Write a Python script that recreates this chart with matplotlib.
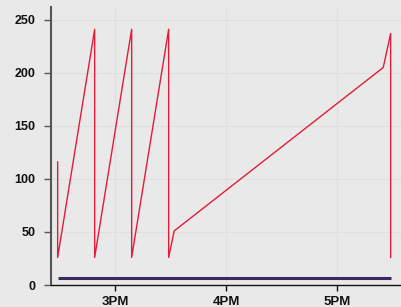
import matplotlib.pyplot as plt
import matplotlib.dates as mdates
import pandas as pd

red_times = ['14:29', '14:29', '14:49', '14:49', '15:09', '15:09', '15:29', '15:29',
             '15:32', '17:25', '17:29', '17:29']
red_values = [116, 26, 241, 26, 241, 26, 241, 26, 51, 205, 237, 26]
purple_times = ['14:29', '17:29']
purple_values = [7, 7]
y_ticks = [0, 50, 100, 150, 200, 250]

def to_dt(ts):
    return pd.to_datetime(['2024-01-01 ' + t for t in ts])

bg = '#e8e9e8'
fig = plt.figure(figsize=(4.02, 3.07), dpi=100, facecolor=bg)
ax = fig.add_axes([51 / 402, 22 / 307, 350 / 402, 278 / 307], facecolor=bg)

ax.plot(to_dt(purple_times), purple_values, color='#3b2a60', lw=2.2, solid_capstyle='butt')
ax.plot(to_dt(red_times), red_values, color='#e31b3b', lw=1.0)

ax.set_xlim(pd.Timestamp('2024-01-01 14:25:24'), pd.Timestamp('2024-01-01 17:34:36'))
ax.set_ylim(0, 262)
ax.set_yticks(y_ticks)
ax.xaxis.set_major_locator(mdates.HourLocator())
ax.xaxis.set_major_formatter(mdates.DateFormatter('%-I%p'))

ax.grid(True, color='#dfe0df', lw=0.8)
ax.set_axisbelow(True)
for s in ['top', 'right']:
    ax.spines[s].set_visible(False)
ax.spines['left'].set_color('#555555')
ax.spines['left'].set_linewidth(1.5)
ax.spines['bottom'].set_color('#111111')
ax.spines['bottom'].set_linewidth(1.0)
ax.tick_params(axis='y', length=5, width=1, color='#555555', pad=6)
ax.tick_params(axis='x', length=4, width=1, color='#111111', pad=4)
for lab in ax.get_yticklabels():
    lab.set_fontfamily('Liberation Sans')
    lab.set_fontweight('bold')
    lab.set_fontsize(9)
    lab.set_color('#111111')
for lab in ax.get_xticklabels():
    lab.set_fontfamily('Liberation Sans')
    lab.set_fontweight('bold')
    lab.set_fontsize(9.5)
    lab.set_color('#111111')

fig.savefig('out.png', dpi=100, facecolor=bg)
